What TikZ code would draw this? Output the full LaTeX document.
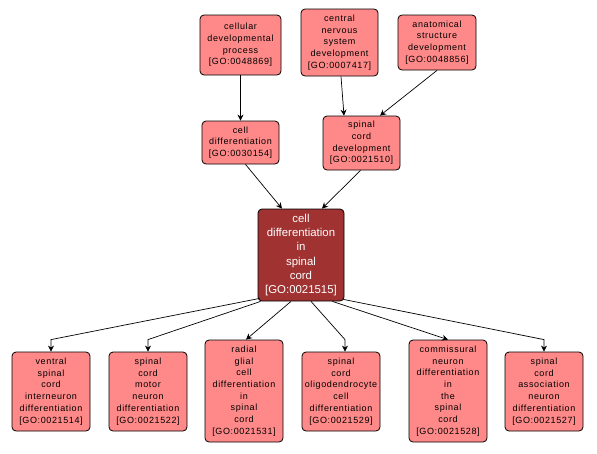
\documentclass[tikz,border=0pt]{standalone}
\usepackage{fontspec}
\setmainfont[LetterSpace=7]{Liberation Sans}
\newfontfamily\focusfont{Liberation Sans}
\usetikzlibrary{arrows.meta,calc}
\definecolor{salmon}{RGB}{255,137,137}
\definecolor{darkred}{RGB}{160,50,50}
\tikzset{
  term/.style={draw=black, line width=0.8pt, fill=salmon, rounded corners=4pt, align=center,
    font=\fontsize{9}{11.7}\selectfont, inner sep=0pt, text=black},
  focus/.style={term, fill=darkred, text=white, font=\focusfont\fontsize{11.4}{14.3}\selectfont},
  arr/.style={-{Stealth[length=6pt,width=6pt]}, line width=0.7pt, black},
}
\begin{document}
\begin{tikzpicture}[x=1pt,y=-1pt]
\useasboundingbox (0,0) rectangle (597,453);
\node[term, minimum width=81pt, minimum height=60pt] (cdp) at (240.5,45) {cellular\\developmental\\process\\{[GO:0048869]}};
\node[term, minimum width=77pt, minimum height=67pt] (cns) at (339.5,42.5) {central\\nervous\\system\\development\\{[GO:0007417]}};
\node[term, minimum width=78pt, minimum height=55pt] (asd) at (437,42.5) {anatomical\\structure\\development\\{[GO:0048856]}};
\node[term, minimum width=77pt, minimum height=43pt] (cd) at (240.5,142.5) {cell\\differentiation\\{[GO:0030154]}};
\node[term, minimum width=77pt, minimum height=54pt] (scd) at (361.5,143) {spinal\\cord\\development\\{[GO:0021510]}};
\node[focus, minimum width=86pt, minimum height=92pt] (c) at (301,255) {cell\\differentiation\\in\\spinal\\cord\\{[GO:0021515]}};
\node[term, minimum width=78pt, minimum height=79pt] (v) at (51,391.5) {ventral\\spinal\\cord\\interneuron\\differentiation\\{[GO:0021514]}};
\node[term, minimum width=78pt, minimum height=79pt] (m) at (148,391.5) {spinal\\cord\\motor\\neuron\\differentiation\\{[GO:0021522]}};
\node[term, minimum width=78pt, minimum height=102pt] (r) at (244,391) {radial\\glial\\cell\\differentiation\\in\\spinal\\cord\\{[GO:0021531]}};
\node[term, minimum width=78pt, minimum height=79pt] (o) at (341,391.5) {spinal\\cord\\oligodendrocyte\\cell\\differentiation\\{[GO:0021529]}};
\node[term, minimum width=78pt, minimum height=102pt] (cm) at (448,391) {commissural\\neuron\\differentiation\\in\\the\\spinal\\cord\\{[GO:0021528]}};
\node[term, minimum width=78pt, minimum height=79pt] (a) at (544,391.5) {spinal\\cord\\association\\neuron\\differentiation\\{[GO:0021527]}};
% upper edges
\draw[arr] (cdp.south) -- (cd.north);
\draw[arr] ($(cns.south)+(1.5,0)$) -- ($(scd.north)+(-17.5,0)$);
\draw[arr] ($(asd.south)+(0,0)$) -- ($(scd.north)+(18.5,0)$);
\draw[arr] ($(cd.south)+(5,0)$) -- ($(c.north)+(-19,0)$);
\draw[arr] ($(scd.south)+(-1,0)$) -- ($(c.north)+(21,0)$);
% lower edges
\draw[arr] ($(c.south west)+(2,-3)$) -- ($(v.north)+(0,-12)$) -- (v.north);
\draw[arr] ($(c.south west)+(3,0)$) -- ($(m.north)+(0,-12)$) -- (m.north);
\draw[arr] ($(c.south)+(-10,0)$) -- ($(r.north)+(2,0)$);
\draw[arr] ($(c.south)+(10,0)$) -- ($(o.north)+(4,-12)$) -- ($(o.north)+(4,0)$);
\draw[arr] ($(c.south east)+(-12,0)$) -- ($(cm.north)+(0,0)$);
\draw[arr] ($(c.south east)+(-1,-2)$) -- ($(a.north)+(0,-12)$) -- (a.north);
\end{tikzpicture}
\end{document}
